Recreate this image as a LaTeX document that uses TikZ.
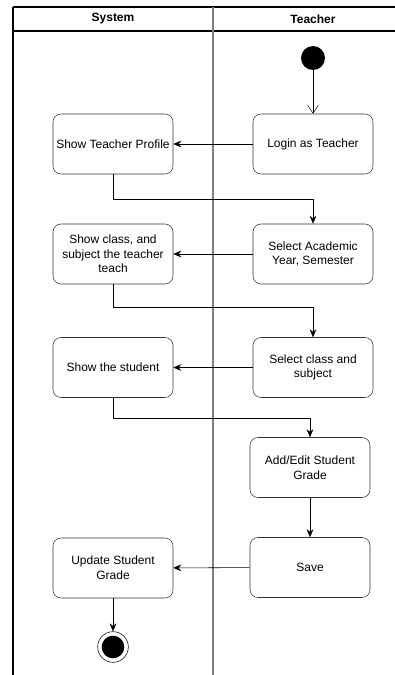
\documentclass[tikz,border=0pt]{standalone}
\usepackage{fontspec}
\setmainfont{Liberation Sans}
\usetikzlibrary{positioning, arrows.meta}

\begin{document}
\begin{tikzpicture}[
        x=0.75pt, y=-0.75pt,
        >={Stealth[length=6pt,width=5pt]},
        node distance=150pt,
        on grid,
        font=\fontsize{9}{11}\selectfont,
        lane/.style={line width=1.1pt},
        divider/.style={line width=1.5pt, draw=black!50},
        action/.style={draw=black!80, rounded corners=6pt, minimum width=90pt,
            minimum height=45pt, align=center, inner sep=0pt},
        start/.style={circle, fill=black, minimum size=18pt, inner sep=0pt},
        stop/.style={circle, draw, minimum size=23pt, inner sep=0pt,
            path picture={\fill (path picture bounding box.center) circle (8.5pt);}}
    ]
        \useasboundingbox (0,0) rectangle (395,675);
        % swimlanes
        \draw[lane] (13,7) -- (395,7);
        \draw[lane] (13,31) -- (395,31);
        \draw[lane] (13,7) -- (13,675);
        \draw[divider] (213,7) -- (213,675);
        \node[font=\fontsize{9}{11}\selectfont\bfseries] (sys) at (113,19) {System};
        \node[font=\fontsize{9}{11}\selectfont\bfseries] (tch) at (313,19) {Teacher};
        % actions
        \node[start] (init) at (313,58) {};
        \node[action] (login) at (313,144) {Login as Teacher};
        \node[action, left=of login] (profile) {Show Teacher Profile};
        \node[action] (year) at (313,254) {Select Academic\\Year, Semester};
        \node[action, left=of year] (teach) {Show class, and\\subject the teacher\\teach};
        \node[action] (subj) at (313,367.5) {Select class and\\subject};
        \node[action, left=of subj] (student) {Show the student};
        \node[action] (grade) at (310,467.5) {Add/Edit Student\\Grade};
        \node[action, below=75pt of grade] (save) {Save};
        \node[action] (update) at (113,568) {Update Student\\Grade};
        \node[stop] (final) at (113,647) {};
        % flows
        \draw[-{Straight Barb[length=6pt,width=8pt]}] (init) -- (login);
        \draw[->] (login) -- (profile);
        \draw[->] (profile.south) -- ++(0,25) -| (year);
        \draw[->] (year) -- (teach);
        \draw[->] (teach.south) -- ++(0,23) -| (subj);
        \draw[->] (subj) -- (student);
        \draw[->] (student.south) -- ++(0,20) -| (grade);
        \draw[->] (grade) -- (save);
        \draw[->] (save) -- (update);
        \draw[->] (update) -- (final);
\end{tikzpicture}
\end{document}
